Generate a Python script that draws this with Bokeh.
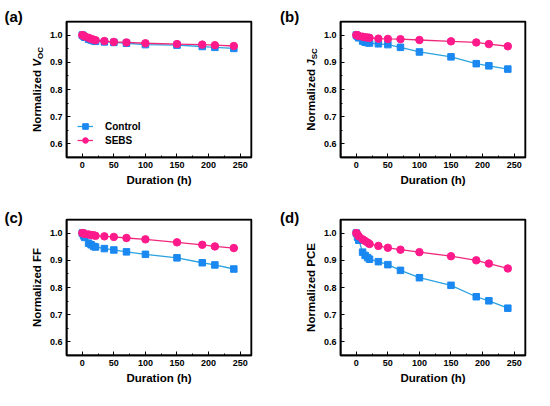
from bokeh.plotting import figure
from bokeh.layouts import row, column
from bokeh.models import (Label, SingleIntervalTicker, Range1d, NumeralTickFormatter, Legend, LegendItem,
                          BoxAnnotation)
from bokeh.embed import file_html
from bokeh.resources import INLINE
import math

# ---------------- data ----------------
duration = [0, 2, 4, 10, 14, 18, 21, 35, 50, 70, 100, 150, 190, 210, 240]

voc_control = [1.0, 0.996, 0.992, 0.985, 0.982, 0.979, 0.977, 0.975, 0.973, 0.970, 0.965, 0.963, 0.958, 0.955, 0.951]
voc_sebs    = [1.0, 0.998, 0.995, 0.990, 0.986, 0.983, 0.981, 0.978, 0.975, 0.973, 0.970, 0.967, 0.965, 0.963, 0.960]

jsc_control = [1.0, 0.995, 0.990, 0.978, 0.974, 0.972, 0.971, 0.968, 0.965, 0.955, 0.938, 0.920, 0.895, 0.887, 0.875]
jsc_sebs    = [1.0, 0.999, 0.997, 0.994, 0.992, 0.991, 0.990, 0.987, 0.986, 0.985, 0.982, 0.977, 0.973, 0.967, 0.959]

ff_control  = [1.0, 0.990, 0.984, 0.963, 0.957, 0.951, 0.949, 0.943, 0.938, 0.931, 0.922, 0.909, 0.891, 0.883, 0.868]
ff_sebs     = [1.0, 0.999, 0.997, 0.995, 0.993, 0.992, 0.990, 0.988, 0.986, 0.982, 0.977, 0.966, 0.957, 0.951, 0.945]

pce_control = [1.0, 0.985, 0.974, 0.930, 0.918, 0.910, 0.904, 0.895, 0.884, 0.863, 0.836, 0.808, 0.766, 0.751, 0.724]
pce_sebs    = [1.0, 0.995, 0.988, 0.977, 0.971, 0.965, 0.960, 0.953, 0.946, 0.939, 0.930, 0.915, 0.900, 0.888, 0.870]

series_names = ["Control", "SEBS"]
panel_tags = ["(a)", "(b)", "(c)", "(d)"]
x_label = "Duration (h)"
# y-label parts: (text, style, size, advance_px)
y_labels = [
    [("Normalized ", "bold", 11.5, 65.2), ("V", "bold italic", 11.5, 7.7), ("OC", "bold", 8, 12)],
    [("Normalized ", "bold", 11.5, 65.2), ("J", "bold italic", 11.5, 6.4), ("SC", "bold", 8, 11.1)],
    [("Normalized FF", "bold", 11.5, 79.2)],
    [("Normalized PCE", "bold", 11.5, 88.8)],
]

# ---------------- style ----------------
FONT = "Liberation Sans"
C_LINE, C_MARK = "#2AA3E0", "#1A88F0"
S_LINE, S_MARK = "#F0287C", "#FF1A8C"
X0, X1 = -25, 268
Y0, Y1 = 0.55, 1.05

cols = [dict(lw=46, w=221, left=18, right=16), dict(lw=53, w=214, left=18, right=9)]
rows_cfg = [dict(h=195, top=21, bottom=38), dict(h=195, top=24, bottom=35)]
tag_pos = [(4, 16), (12.6, 16), (4, 21.6), (12.6, 21.6)]   # (x from strip left, y from strip top)

data = [(voc_control, voc_sebs), (jsc_control, jsc_sebs), (ff_control, ff_sebs), (pce_control, pce_sebs)]


def try_set(obj, **kw):
    for k, v in kw.items():
        try:
            setattr(obj, k, v)
        except Exception:
            pass


layout_rows = [[], []]
for i in range(4):
    r, c = divmod(i, 2)
    ci, ri = cols[c], rows_cfg[r]
    fh = ri["h"] - ri["top"] - ri["bottom"]
    H = ri["h"]

    # ----- label strip: y label and panel tag as real text -----
    s = figure(width=ci["lw"], height=H, output_backend="svg", toolbar_location=None,
               x_range=Range1d(0, ci["lw"]), y_range=Range1d(0, H),
               x_axis_type=None, y_axis_type=None,
               min_border_left=0, min_border_right=0, min_border_top=0, min_border_bottom=0)
    try_set(s, frame_align=False)
    s.grid.visible = False
    s.outline_line_color = None
    s.background_fill_color = None
    tx, ty = tag_pos[i]
    s.add_layout(Label(x=tx, y=H - ty, text=panel_tags[i], text_align="left", text_baseline="middle",
                       text_font=FONT, text_font_style="bold", text_font_size="15px", text_color="black"))
    parts = y_labels[i]
    total = sum(pw for _, _, _, pw in parts)
    center_from_top = ri["top"] + fh / 2
    yy = (H - center_from_top) - total / 2
    main_x = ci["lw"] - 10
    for txt, style, size, pw in parts:
        xx = main_x + (3.5 if size < 10 else 0)
        s.add_layout(Label(x=xx, y=yy, text=txt, angle=math.pi / 2, text_align="left",
                           text_baseline="middle", text_font=FONT, text_font_style=style,
                           text_font_size=f"{size}px", text_color="black"))
        yy += pw

    # ----- main plot (x-axis caption given as a title below the axis) -----
    p = figure(width=ci["w"], height=H, output_backend="svg", toolbar_location=None,
               title=x_label, title_location="below",
               x_range=Range1d(X0, X1), y_range=Range1d(Y0, Y1),
               min_border_left=ci["left"], min_border_right=ci["right"],
               min_border_top=ri["top"], min_border_bottom=ri["bottom"])
    try_set(p, frame_align=False)
    try_set(p.title, align="center", text_font=FONT, text_font_style="bold",
            text_font_size="11.5px", text_color="black", standoff=2, offset=0)
    p.grid.visible = False
    p.background_fill_color = None
    p.outline_line_color = "black"
    p.outline_line_width = 1.5

    # frame box drawn as an annotation along the plot ranges
    p.add_layout(BoxAnnotation(left=X0, right=X1, bottom=Y0, top=Y1,
                               fill_alpha=0, fill_color=None,
                               line_color="black", line_width=2, line_alpha=1))

    ctrl, sebs = data[i]
    lc = p.line(duration, ctrl, line_color=C_LINE, line_width=1.3)
    mc = p.scatter(duration, ctrl, marker="square", size=6.5, fill_color=C_MARK, line_color=C_MARK)
    ls = p.line(duration, sebs, line_color=S_LINE, line_width=1.3)
    ms = p.scatter(duration, sebs, marker="circle", size=7.5, fill_color=S_MARK, line_color=S_MARK)

    p.xaxis.ticker = SingleIntervalTicker(interval=50, num_minor_ticks=2)
    p.yaxis.ticker = SingleIntervalTicker(interval=0.1, num_minor_ticks=2)
    p.yaxis.formatter = NumeralTickFormatter(format="0.0")
    for ax in (p.xaxis, p.yaxis):
        ax.axis_line_width = 1.5
        ax.axis_line_color = "black"
        ax.major_tick_in = 4
        ax.major_tick_out = 0
        ax.minor_tick_in = 2
        ax.minor_tick_out = 0
        ax.major_tick_line_color = "black"
        ax.minor_tick_line_color = "black"
        ax.major_label_text_font = FONT
        ax.major_label_text_font_style = "bold"
        ax.major_label_text_font_size = "9px"
        ax.major_label_text_color = "black"
        ax.major_label_standoff = 4

    if i == 0:
        leg = Legend(items=[LegendItem(label=series_names[0], renderers=[lc, mc]),
                            LegendItem(label=series_names[1], renderers=[ls, ms])],
                     location=(11, 10), padding=0, margin=0, spacing=0,
                     glyph_width=16, glyph_height=14, label_standoff=12,
                     label_text_font=FONT, label_text_font_style="bold",
                     label_text_font_size="10px", label_text_color="black",
                     background_fill_alpha=0, border_line_alpha=0)
        p.add_layout(leg, "center")
    layout_rows[r] += [s, p]

page = column(row(*layout_rows[0]), row(*layout_rows[1]))
open("out.html", "w").write(file_html(page, INLINE))
